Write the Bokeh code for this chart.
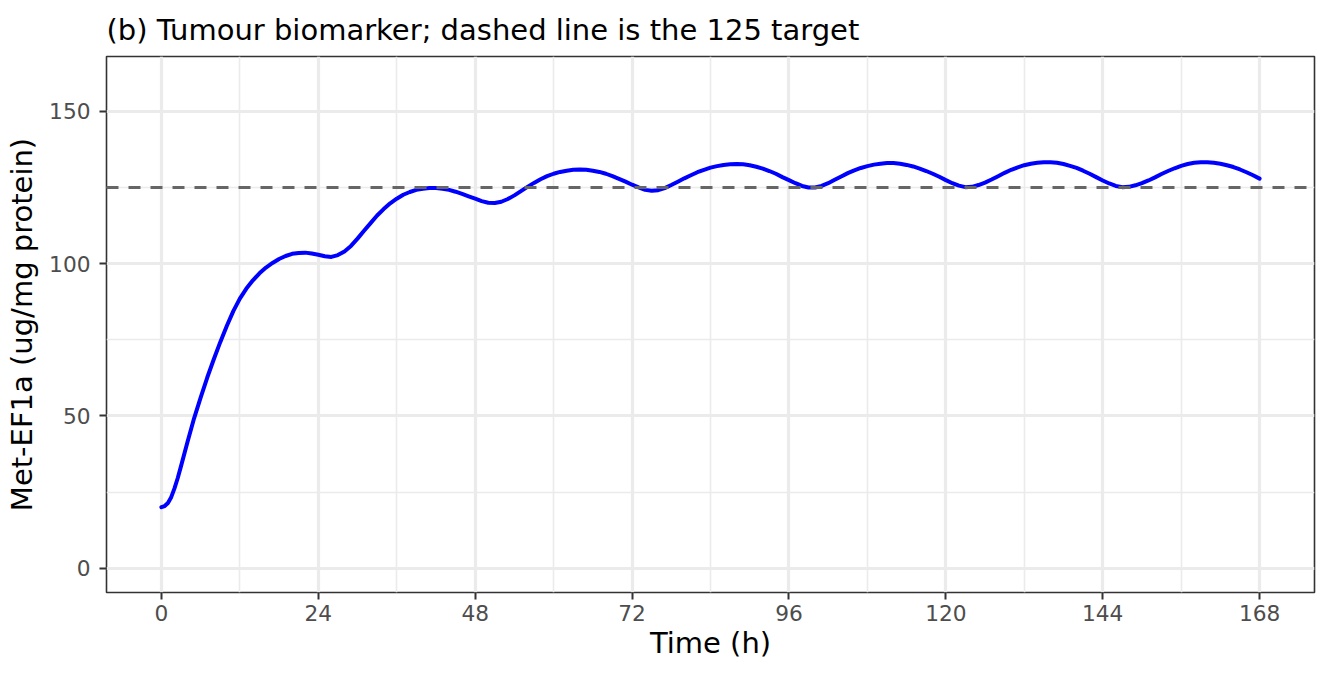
from bokeh.plotting import figure
from bokeh.models import Range1d, FixedTicker, Span, ColumnDataSource
from bokeh.embed import file_html
from bokeh.resources import INLINE

# ---- data ----
time_h = [0, 0.5, 1, 1.5, 2, 2.5] + list(range(3, 169))
met_ef1a = [
    20.0, 20.4, 21.4, 23.3, 26.2, 29.6,
    33.5, 41.5, 49.2, 56.0, 62.5, 68.5, 74.2,
    79.5, 84.4, 88.5, 91.8, 94.5, 96.8, 98.7, 100.2, 101.5, 102.5,
    103.2, 103.5, 103.6, 103.3, 102.9, 102.4, 102.2, 102.8, 104.0, 105.8,
    108.2, 110.8, 113.3, 115.8, 117.9, 119.8, 121.3, 122.6, 123.5, 124.2,
    124.6, 124.8, 124.8, 124.6, 124.2, 123.6, 122.9, 122.1, 121.3, 120.5,
    120.0, 119.9, 120.3, 121.2, 122.4, 123.8, 125.2, 126.5, 127.7, 128.7,
    129.5, 130.1, 130.5, 130.8, 130.9, 130.8, 130.5, 130.1, 129.5, 128.7,
    127.8, 126.9, 125.9, 125.0, 124.2, 123.9, 124.1, 124.8, 125.8, 126.9,
    128.0, 129.0, 130.0, 130.8, 131.5, 132.0, 132.4, 132.6, 132.7, 132.6,
    132.3, 131.8, 131.2, 130.4, 129.5, 128.4, 127.4, 126.4, 125.5, 125.0,
    125.0, 125.5, 126.4, 127.5, 128.6, 129.7, 130.6, 131.4, 132.0, 132.5,
    132.8, 133.0, 133.0, 132.8, 132.4, 131.9, 131.2, 130.4, 129.5, 128.5,
    127.4, 126.4, 125.6, 125.1, 125.2, 125.8, 126.6, 127.6, 128.7, 129.8,
    130.8, 131.6, 132.3, 132.8, 133.1, 133.3, 133.3, 133.1, 132.7, 132.1,
    131.4, 130.5, 129.5, 128.4, 127.3, 126.3, 125.5, 125.1, 125.2, 125.7,
    126.4, 127.3, 128.3, 129.4, 130.4, 131.3, 132.1, 132.7, 133.1, 133.3,
    133.3, 133.1, 132.8, 132.3, 131.7, 130.9, 130.0, 129.0, 127.9,
]
target = 125
x_ticks = [0, 24, 48, 72, 96, 120, 144, 168]
x_minor = [12, 36, 60, 84, 108, 132, 156]
y_ticks = [0, 50, 100, 150]
y_minor = [25, 75, 125]

title_text = "(b) Tumour biomarker; dashed line is the 125 target"
x_label = "Time (h)"
y_label = "Met-EF1a (ug/mg protein)"

FONT = "DejaVu Sans"

p = figure(
    width=1328, height=675,
    x_range=Range1d(-8.4, 176.4), y_range=Range1d(-8, 168),
    output_backend="svg", toolbar_location=None,
    min_border_left=106, min_border_right=14,
    min_border_top=56, min_border_bottom=83,
    background_fill_color="white", border_fill_color="white",
)

# title
p.title.text = title_text
p.title.text_font = FONT
p.title.text_font_size = "29px"
p.title.text_font_style = "normal"
p.title.text_color = "black"
p.title.align = "left"
p.title.standoff = 19

# panel border
p.outline_line_color = "#333333"
p.outline_line_width = 1.6

# axes
p.xaxis.ticker = FixedTicker(ticks=x_ticks, minor_ticks=x_minor)
p.yaxis.ticker = FixedTicker(ticks=y_ticks, minor_ticks=y_minor)
p.xaxis.axis_label = x_label
p.yaxis.axis_label = y_label
for ax in (p.xaxis[0], p.yaxis[0]):
    ax.axis_line_color = None
    ax.major_tick_line_color = "#333333"
    ax.major_tick_line_width = 2
    ax.major_tick_out = 7
    ax.major_tick_in = 0
    ax.minor_tick_line_color = None
    ax.major_label_text_font = FONT
    ax.major_label_text_font_size = "21.7px"
    ax.major_label_text_color = "#4D4D4D"
    ax.axis_label_text_font = FONT
    ax.axis_label_text_font_size = "29px"
    ax.axis_label_text_font_style = "normal"
    ax.axis_label_text_color = "black"
p.xaxis.major_label_standoff = 5
p.xaxis.axis_label_standoff = 2
p.yaxis.major_label_standoff = 9
p.yaxis.axis_label_standoff = 7

# grid
p.xgrid.ticker = p.xaxis.ticker
p.ygrid.ticker = p.yaxis.ticker
for g in (p.xgrid[0], p.ygrid[0]):
    g.grid_line_color = "#EBEBEB"
    g.grid_line_width = 3.2
    g.minor_grid_line_color = "#EBEBEB"
    g.minor_grid_line_width = 1.6

# target line
p.add_layout(Span(location=target, dimension="width", line_color="#666666",
                  line_width=3, line_dash="12 10"))

src = ColumnDataSource(dict(t=time_h, v=met_ef1a))
p.line("t", "v", source=src, line_color="#0000FF", line_width=4,
       line_join="round", line_cap="round")

open("out.html", "w").write(file_html(p, INLINE))
